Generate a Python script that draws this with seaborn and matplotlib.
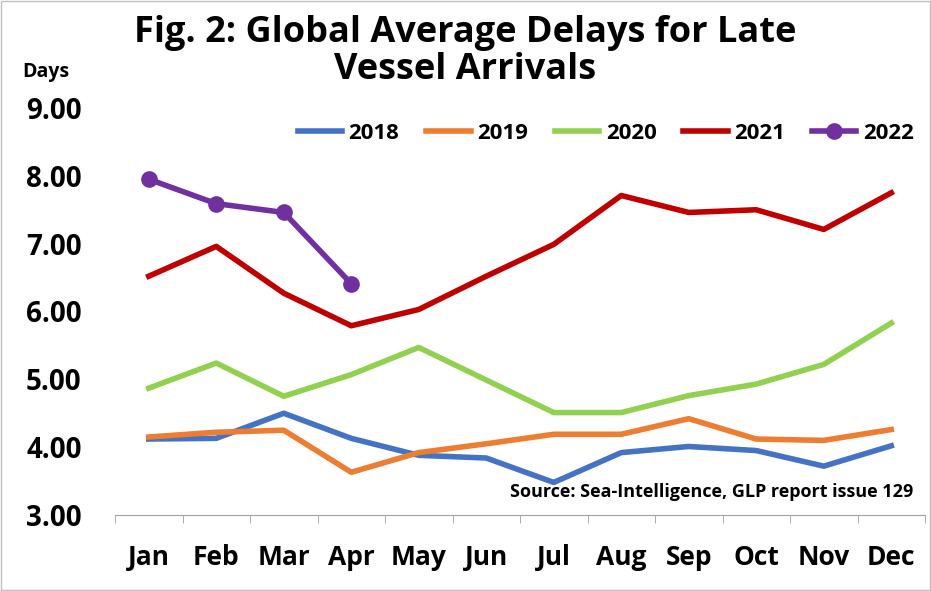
import matplotlib
matplotlib.use("Agg")
import matplotlib.pyplot as plt
import seaborn as sns
import pandas as pd

months = ["Jan","Feb","Mar","Apr","May","Jun","Jul","Aug","Sep","Oct","Nov","Dec"]
y2018 = [4.12,4.13,4.50,4.13,3.88,3.84,3.48,3.92,4.01,3.95,3.72,4.02]
y2019 = [4.15,4.22,4.25,3.63,3.92,4.05,4.19,4.19,4.42,4.12,4.10,4.26]
y2020 = [4.87,5.24,4.75,5.07,5.47,4.99,4.51,4.51,4.76,4.93,5.22,5.83]
y2021 = [6.52,6.96,6.27,5.79,6.03,6.52,6.99,7.71,7.46,7.50,7.21,7.75]
y2022 = [7.95,7.59,7.46,6.41]

series = {"2018": y2018, "2019": y2019, "2020": y2020, "2021": y2021, "2022": y2022}
colors = {"2018": "#4472C4", "2019": "#ED7D31", "2020": "#92D050", "2021": "#C00000", "2022": "#7030A0"}
rows = []
for k, v in series.items():
    for i, val in enumerate(v):
        rows.append({"year": k, "x": i, "val": val})
df = pd.DataFrame(rows)

plt.rcParams["font.family"] = "Open Sans"
fig = plt.figure(figsize=(9.31, 5.91), dpi=100)
ax = fig.add_axes([115/931, 1-515/591, 810/931, 407/591])
for k in series:
    d = df[df.year == k]
    sns.lineplot(data=d, x="x", y="val", ax=ax, color=colors[k], lw=4,
                 marker="o" if k == "2022" else None, markersize=12 if k == "2022" else 0,
                 markeredgewidth=0, label=k)
ax.set_ylim(3, 9)
ax.set_xlim(-0.5, 11.5)
ax.set_yticks(range(3, 10))
ax.set_yticklabels([f"{v:.2f}" for v in range(3, 10)], fontsize=20, fontweight="bold")
ax.set_xticks(range(12))
ax.set_xticklabels(months, fontsize=19, fontweight="bold")
ax.set_xlabel(""); ax.set_ylabel("")
for s in ["left", "right", "top"]:
    ax.spines[s].set_visible(False)
ax.spines["bottom"].set_color("#A0A0A0")
ax.tick_params(axis="y", length=0, pad=24)
ax.tick_params(axis="x", length=0, pad=21)
ax.set_xticks([i + 0.5 for i in range(-1, 12)], minor=True)
ax.tick_params(axis="x", which="minor", length=6, color="#A0A0A0", direction="out")
ax.legend(loc="upper right", bbox_to_anchor=(1.0, 0.99), ncol=5, frameon=False,
          prop={"weight": "bold", "size": 16}, handlelength=2.0, columnspacing=1.2,
          handletextpad=0.3, borderaxespad=0.1)
fig.text(0.5, 0.975, "Fig. 2: Global Average Delays for Late\nVessel Arrivals", ha="center", va="top",
         fontsize=26, fontweight="bold", linespacing=1.05)
fig.text(22/931, 1-72/591, "Days", fontsize=14, fontweight="bold", va="center")
ax.text(0.985, 0.035, "Source: Sea-Intelligence, GLP report issue 129", transform=ax.transAxes,
        ha="right", va="bottom", fontsize=13, fontweight="bold")
fig.patches.append(plt.Rectangle((0.001, 0.001), 0.998, 0.998, transform=fig.transFigure,
                                 fill=False, ec="#BFBFBF", lw=1))
fig.savefig("out.png", dpi=100)
